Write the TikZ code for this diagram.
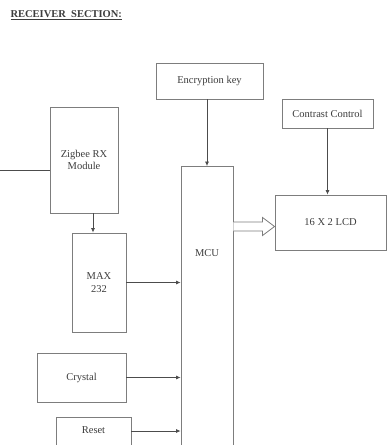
\documentclass[tikz,border=0pt]{standalone}
\usepackage{fontspec}
\setmainfont{Liberation Serif}
\usepackage{xcolor}
\usetikzlibrary{shapes,arrows,arrows.meta,positioning,fit,backgrounds}
\definecolor{boxgray}{RGB}{125,125,125}
\definecolor{txtgray}{RGB}{60,60,60}

\begin{document}
\begin{tikzpicture}[x=1pt, y=-1pt,
    block/.style={rectangle, draw=boxgray, line width=0.9pt, inner sep=0pt,
        align=center, text=txtgray, font=\fontsize{10.5}{12.5}\selectfont},
    arrow/.style={-{Latex[length=4.5pt,width=4pt]}, draw=black!70, line width=0.7pt},
    bus/.style={draw=boxgray, line width=0.8pt, line join=miter, fill=white}
]
    \useasboundingbox (0,0) rectangle (387,445);
    \clip (0,0) rectangle (387,445);

    % Title
    \node[anchor=west, text=txtgray, font=\fontsize{10.5}{12.5}\selectfont\bfseries] (title) at (7,15) {\underline{RECEIVER\ \ SECTION:}};

    % Top row
    \node[block, minimum width=107, minimum height=36] (enc) at (209.5,81) {Encryption key};
    \node[block, minimum width=91, minimum height=29] (ctrl) at (327.5,113.5) {Contrast Control};

    % Controller and display
    \node[block, anchor=north, minimum width=52, text height=90, text depth=200] (mcu) at (207,166) {MCU};
    \node[block, minimum width=111, minimum height=55] (lcd) at (330.5,222.5) {16 X 2 LCD};

    % Left column
    \node[block, minimum width=68, minimum height=106] (zig) at (84,160) {Zigbee RX\\Module};
    \node[block, minimum width=54, minimum height=99] (max) at (99,282.5) {MAX\\232};
    \node[block, minimum width=89, minimum height=49] (xtal) at (81.5,377.5) {Crystal};
    \node[block, anchor=north, minimum width=75, text height=16, text depth=40] (rst) at (93.5,417) {Reset};
    \coordinate (rf) at (0,170);

    % Arrows
    \draw[draw=black!70, line width=0.7pt] (rf) -- (rf -| zig.west);
    \draw[arrow] ([xshift=9]zig.south) -- ([xshift=9]zig.south |- max.north);
    \draw[arrow] (mcu.north |- enc.south) -- (mcu.north);
    \draw[arrow] (ctrl.south) -- (ctrl.south |- lcd.north);
    \draw[arrow] (max.east) -- (max.east -| mcu.west);
    \draw[arrow] (xtal.east) -- (xtal.east -| mcu.west);
    \draw[arrow] ([yshift=-14]rst.north east) -- ([yshift=-14]rst.north east -| mcu.west);

    % Bus to the display
    \coordinate (bs) at ([yshift=-4]mcu.east |- lcd.west);
    \coordinate (be) at ([yshift=-4]lcd.west);
    \draw[bus] ([yshift=4.5]bs) -- ([xshift=-12,yshift=4.5]be) -- ([xshift=-12,yshift=9]be)
        -- (be) -- ([xshift=-12,yshift=-9]be) -- ([xshift=-12,yshift=-4.5]be) -- ([yshift=-4.5]bs);
\end{tikzpicture}
\end{document}
